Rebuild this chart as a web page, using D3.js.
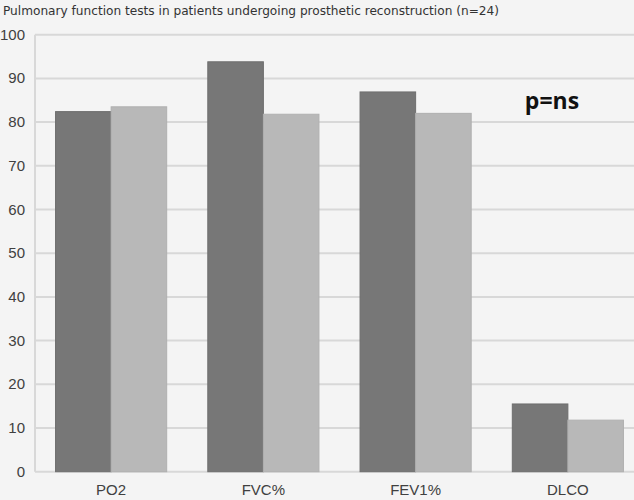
<!DOCTYPE html>
<html>
<head>
<meta charset="utf-8">
<script src="https://cdn.jsdelivr.net/npm/d3@7"></script>
<style>
  body { margin: 0; background: #f4f4f4; }
  svg { display: block; }
</style>
</head>
<body>
<svg id="canvas" width="634" height="500"></svg>
<script>
// categories and the two series (dark = first, light = second)
let categories = ["PO2", "FVC%", "FEV1%", "DLCO"];
let seriesDark = [82.4, 93.8, 86.9, 15.5];
let seriesLight = [83.5, 81.8, 82.0, 11.8];
let yTicks = [0, 10, 20, 30, 40, 50, 60, 70, 80, 90, 100];

let canvas = d3.select("#canvas");

canvas.append("rect")
  .attr("width", 634).attr("height", 500)
  .attr("fill", "#f4f4f4");

let x = d3.scaleBand()
  .domain(categories)
  .range([35, 644])
  .paddingInner(0.27)
  .paddingOuter(0.135);

let xSub = d3.scaleBand()
  .domain(["dark", "light"])
  .range([0, x.bandwidth()]);

let y = d3.scaleLinear()
  .domain([0, 100])
  .range([471.7, 34.7]);

// gridlines
canvas.append("g")
  .selectAll("line")
  .data(yTicks)
  .enter()
  .append("line")
  .attr("x1", 35).attr("x2", 644)
  .attr("y1", d => y(d)).attr("y2", d => y(d))
  .attr("stroke", "#d8d8d8")
  .attr("stroke-width", 2);

// left axis line
canvas.append("line")
  .attr("x1", 35).attr("x2", 35)
  .attr("y1", y(100)).attr("y2", y(0))
  .attr("stroke", "#d8d8d8")
  .attr("stroke-width", 2);

// y tick labels
canvas.append("g")
  .selectAll("text")
  .data(yTicks)
  .enter()
  .append("text")
  .attr("x", 25)
  .attr("y", d => y(d) + 5)
  .attr("text-anchor", "end")
  .attr("font-family", "Liberation Sans, Arial, sans-serif")
  .attr("font-size", 15)
  .attr("fill", "#404040")
  .text(d => d);

// bars
let rows = categories.map((c, i) => ({ cat: c, dark: seriesDark[i], light: seriesLight[i] }));
let groups = canvas.append("g")
  .selectAll("g")
  .data(rows)
  .enter()
  .append("g")
  .attr("transform", d => "translate(" + x(d.cat) + ",0)");

groups.selectAll("rect")
  .data(d => [{ key: "dark", v: d.dark }, { key: "light", v: d.light }])
  .enter()
  .append("rect")
  .attr("x", d => xSub(d.key))
  .attr("y", d => y(d.v))
  .attr("width", xSub.bandwidth())
  .attr("height", d => y(0) - y(d.v))
  .attr("fill", d => d.key === "dark" ? "#777777" : "#b8b8b8")
  .attr("stroke", d => d.key === "dark" ? "#6e6e6e" : "#b0b0b0")
  .attr("stroke-width", 1);

// x labels
canvas.append("g")
  .selectAll("text")
  .data(categories)
  .enter()
  .append("text")
  .attr("x", d => x(d) + x.bandwidth() / 2)
  .attr("y", 495)
  .attr("text-anchor", "middle")
  .attr("font-family", "Liberation Sans, Arial, sans-serif")
  .attr("font-size", 15)
  .attr("fill", "#404040")
  .text(d => d);

// title
canvas.append("text")
  .attr("x", 3)
  .attr("y", 15)
  .attr("font-family", "DejaVu Sans, Verdana, sans-serif")
  .attr("font-size", 12)
  .attr("textLength", 496)
  .attr("lengthAdjust", "spacingAndGlyphs")
  .attr("fill", "#333333")
  .text("Pulmonary function tests in patients undergoing prosthetic reconstruction (n=24)");

// annotation
canvas.append("text")
  .attr("x", 552)
  .attr("y", 109)
  .attr("text-anchor", "middle")
  .attr("font-family", "Open Sans, Liberation Sans, sans-serif")
  .attr("font-weight", "bold")
  .attr("font-size", 23)
  .attr("fill", "#111111")
  .text("p=ns");
</script>
</body>
</html>
